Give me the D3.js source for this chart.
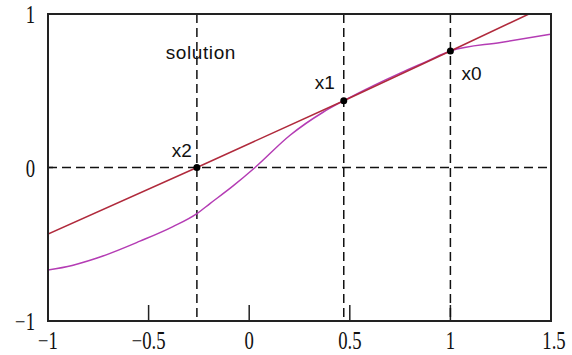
<!DOCTYPE html>
<html>
<head>
<meta charset="utf-8">
<script src="https://cdn.jsdelivr.net/npm/d3@7"></script>
<style>
  html, body { margin: 0; padding: 0; background: #fff; }
  svg { display: block; }
</style>
</head>
<body>
<svg id="chart" width="572" height="355"></svg>
<script>
// Function curve f(x)
const curveX = [-1, -0.88, -0.756, -0.543, -0.379, -0.26, -0.195, -0.08, 0.029, 0.203, 0.367, 0.47, 0.62, 0.75, 0.88, 1.0, 1.25, 1.5];
const curveY = [-0.668, -0.638, -0.59, -0.48, -0.385, -0.30, -0.235, -0.12, 0, 0.21, 0.36, 0.435, 0.535, 0.615, 0.69, 0.759, 0.815, 0.868];

// Secant line through x0 and x1
const secantX = [-1, -0.26, 0.47, 1.0, 1.39, 1.5];
const secantY = [-0.433, 0, 0.435, 0.759, 1.0, 1.068];

// Iterates
const iterNames = ["x0", "x1", "x2"];
const iterX = [1.0, 0.47, -0.26];
const iterY = [0.759, 0.435, 0];

// Axes
const xTicks = [-1, -0.5, 0, 0.5, 1, 1.5];
const yTicks = [-1, 0, 1];
const xDomain = [-1, 1.5];
const yDomain = [-1, 1];

const svg = d3.select("#chart");
const plotLeft = 48, plotRight = 551, plotTop = 14, plotBottom = 321;

const x = d3.scaleLinear().domain(xDomain).range([plotLeft, plotRight]);
const y = d3.scaleLinear().domain(yDomain).range([plotBottom, plotTop]);

svg.append("defs").append("clipPath").attr("id", "plotClip")
  .append("rect").attr("x", plotLeft).attr("y", plotTop)
  .attr("width", plotRight - plotLeft).attr("height", plotBottom - plotTop);

const fmt = v => (v < 0 ? "\u2212" : "") + String(Math.abs(v));

// Inner ticks on the x axis
svg.append("g").selectAll("line").data(xTicks.filter(t => t > -1 && t < 1.5)).join("line")
  .attr("x1", d => x(d)).attr("x2", d => x(d))
  .attr("y1", plotBottom).attr("y2", plotBottom - 16)
  .attr("stroke", "#222").attr("stroke-width", 1.5);

// Tick on y axis at 0
svg.append("line")
  .attr("x1", plotLeft).attr("x2", plotLeft + 5)
  .attr("y1", y(0)).attr("y2", y(0))
  .attr("stroke", "#222").attr("stroke-width", 1.5);

// Dashed guides: y = 0 and the iterate verticals
const dash = "9,5";
svg.append("line")
  .attr("x1", plotLeft).attr("x2", plotRight)
  .attr("y1", y(0)).attr("y2", y(0))
  .attr("stroke", "#111").attr("stroke-width", 1.5)
  .attr("stroke-dasharray", dash);

svg.append("g").selectAll("line").data(iterX).join("line")
  .attr("x1", d => x(d)).attr("x2", d => x(d))
  .attr("y1", plotTop).attr("y2", plotBottom)
  .attr("stroke", "#111").attr("stroke-width", 1.5)
  .attr("stroke-dasharray", dash);

// Curves
const plot = svg.append("g").attr("clip-path", "url(#plotClip)");
const line = d3.line().x(d => x(d[0])).y(d => y(d[1]));

plot.append("path")
  .datum(curveX.map((v, i) => [v, curveY[i]]))
  .attr("d", line.curve(d3.curveMonotoneX))
  .attr("fill", "none").attr("stroke", "#b43cb4").attr("stroke-width", 1.5);

plot.append("path")
  .datum(secantX.map((v, i) => [v, secantY[i]]))
  .attr("d", line.curve(d3.curveLinear))
  .attr("fill", "none").attr("stroke", "#b02a3c").attr("stroke-width", 1.5);

// Iterate markers
svg.append("g").selectAll("circle").data(iterX).join("circle")
  .attr("cx", d => x(d)).attr("cy", (d, i) => y(iterY[i]))
  .attr("r", 3.5).attr("fill", "#000");

// Iterate labels
const labelStyle = sel => sel
  .attr("font-family", "'Liberation Sans', Arial, sans-serif")
  .attr("font-size", 19).attr("fill", "#111");

const labelOffsets = [
  { dx: 11, dy: 29, anchor: "start" },
  { dx: -9, dy: -12, anchor: "end" },
  { dx: -5, dy: -11, anchor: "end" }
];
svg.append("g").selectAll("text").data(iterNames).join("text")
  .call(labelStyle)
  .attr("x", (d, i) => x(iterX[i]) + labelOffsets[i].dx)
  .attr("y", (d, i) => y(iterY[i]) + labelOffsets[i].dy)
  .attr("text-anchor", (d, i) => labelOffsets[i].anchor)
  .text(d => d);

svg.append("text").call(labelStyle)
  .attr("x", x(iterX[2]) + 4).attr("y", plotTop + 45)
  .attr("text-anchor", "middle")
  .attr("letter-spacing", 0.6)
  .text("solution");

// Plot frame
svg.append("rect")
  .attr("x", plotLeft).attr("y", plotTop)
  .attr("width", plotRight - plotLeft).attr("height", plotBottom - plotTop)
  .attr("fill", "none").attr("stroke", "#222").attr("stroke-width", 2);

// Tick labels (condensed serif)
const tickFont = sel => sel
  .attr("font-family", "'Liberation Serif', 'Times New Roman', serif")
  .attr("font-size", 22).attr("fill", "#111");

svg.append("g").selectAll("text").data(xTicks).join("text")
  .call(tickFont)
  .attr("text-anchor", "middle")
  .attr("transform", d => `translate(${x(d) + (d === 1.5 ? 3 : 0)},349) scale(0.85,1.1)`)
  .text(fmt);

svg.append("g").selectAll("text").data(yTicks).join("text")
  .call(tickFont)
  .attr("text-anchor", "end")
  .attr("transform", d => `translate(35,${y(d) + 9}) scale(0.85,1.1)`)
  .text(fmt);
</script>
</body>
</html>
